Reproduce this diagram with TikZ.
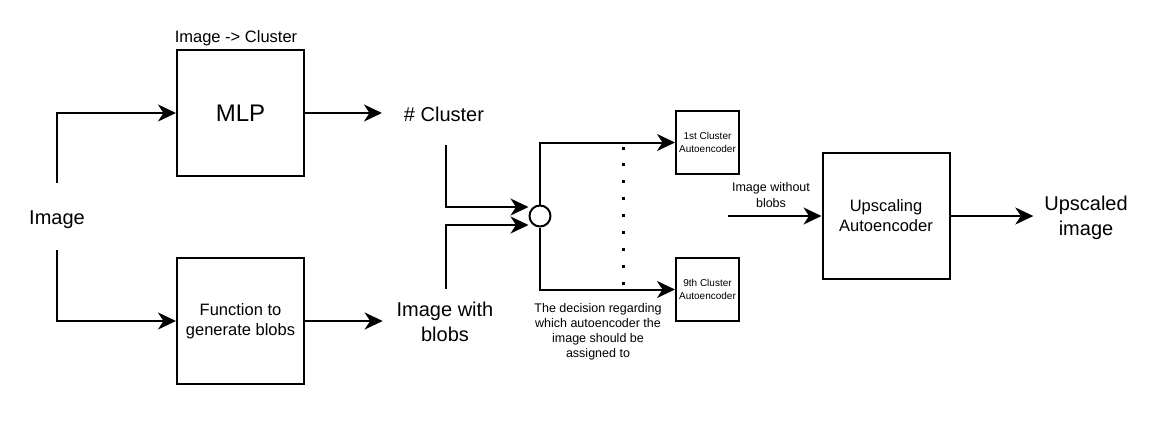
\documentclass[tikz,border=0pt]{standalone}
\usepackage{fontspec}
\setmainfont{Liberation Sans}
\usetikzlibrary{arrows.meta}
\begin{document}
\begin{tikzpicture}[x=1pt,y=-1pt,
  line width=2pt,
  arr/.style={-{Stealth[length=18pt,width=17pt,inset=5.5pt]}},
  blk/.style={draw,minimum width=127pt,minimum height=126pt,inner sep=0pt,align=center},
  sblk/.style={draw,minimum width=63pt,minimum height=63pt,inner sep=0pt,align=center,font=\fontsize{10}{13}\selectfont},
  txt/.style={inner sep=0pt,align=center}]
\useasboundingbox (0,0) rectangle (1166,421);
\node[blk,font=\fontsize{24}{28}\selectfont] (mlp) at (240.5,113) {MLP};
\node[txt,font=\fontsize{16.5}{20}\selectfont] (mlplbl) at (236,38) {Image -> Cluster};
\node[blk,font=\fontsize{16.5}{20}\selectfont] (fn) at (240.5,321) {Function to\\generate blobs};
\node[txt,font=\fontsize{20}{25}\selectfont,minimum height=66pt] (img) at (57,220) {Image};
\node[txt,font=\fontsize{20}{25}\selectfont,inner xsep=21pt] (clu) at (444,114) {\# Cluster};
\node[txt,font=\fontsize{20}{25}\selectfont,inner xsep=13pt] (iwb) at (445,322) {Image with\\blobs};
\node[draw,circle,minimum size=21pt,inner sep=0pt,fill=white] (sw) at (540,216) {};
\node[sblk] (ae1) at (707.5,142.5) {1st Cluster\\Autoencoder};
\node[sblk] (ae9) at (707.5,289.5) {9th Cluster\\Autoencoder};
\node[txt,font=\fontsize{12.5}{15}\selectfont] (dec) at (598,332) {The decision regarding\\which autoencoder the\\image should be\\assigned to};
\node[txt,font=\fontsize{12.5}{16}\selectfont] (iwo) at (771,195) {Image without\\blobs};
\node[blk,font=\fontsize{16.5}{20}\selectfont] (ups) at (886,216) {Upscaling\\Autoencoder};
\node[txt,font=\fontsize{20}{25}\selectfont,inner xsep=10pt] (out) at (1086,218) {Upscaled\\image};
\coordinate (c1) at (446,145);
\coordinate (c2) at (446,289);
\coordinate (c3) at (728,216);
\coordinate (d1) at (623,146.5);
\coordinate (d2) at (623,285);
\draw[arr] ([yshift=3pt]img.north) |- (mlp.west);
\draw[arr] ([yshift=4pt]img.south) |- (fn.west);
\draw[arr] (mlp.east) -- (mlp.east -| clu.west);
\draw[arr] (fn.east) -- (fn.east -| iwb.west);
\draw[arr] (c1) |- ([yshift=9pt]sw.west);
\draw[arr] (c2) |- ([yshift=-9pt]sw.west);
\draw[arr] (sw.north) |- (ae1.west);
\draw[arr] (sw.south) |- (ae9.west);
\draw[line width=3pt,dash pattern=on 3pt off 13.9pt] (d1) -- (d2);
\draw[arr] (c3) -- (ups.west);
\draw[arr] (ups.east) -- (ups.east -| out.west);
\end{tikzpicture}
\end{document}
